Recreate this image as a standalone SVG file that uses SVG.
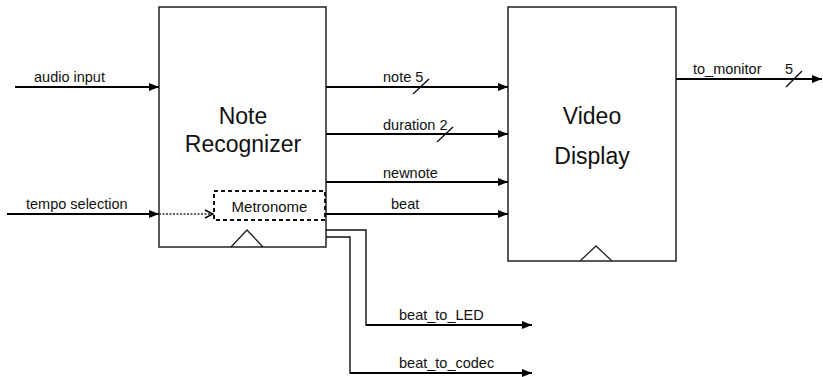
<svg xmlns="http://www.w3.org/2000/svg" width="823" height="377" viewBox="0 0 823 377">
<style>
.box{fill:#fff;stroke:#222;stroke-width:1.5}
.clk{fill:none;stroke:#222;stroke-width:1.3}
.wire{fill:none;stroke:#000;stroke-width:2}
.thin{fill:none;stroke:#111;stroke-width:1.4}
.lbl{font-family:"Liberation Sans",Arial,sans-serif;font-size:14.5px;fill:#111}
.title{font-family:"Liberation Sans",Arial,sans-serif;font-size:23px;fill:#111;text-anchor:middle}
</style>
<defs>
<marker id="ah" viewBox="0 0 10 8" refX="10" refY="4" markerWidth="10" markerHeight="8" markerUnits="userSpaceOnUse" orient="auto">
<path d="M0,0L10,4L0,8z" fill="#000"/>
</marker>
<marker id="oh" viewBox="0 0 10 10" refX="9" refY="5" markerWidth="10" markerHeight="10" markerUnits="userSpaceOnUse" orient="auto">
<path d="M1,1L9,5L1,9" fill="none" stroke="#000" stroke-width="1.4"/>
</marker>
</defs>
<rect width="823" height="377" fill="#fff"/>
<g id="note-recognizer">
<rect class="box" x="159" y="7" width="167" height="240"/>
<path class="clk" d="M231,247L247,230L263,247"/>
<text class="title" x="243" y="124">Note</text>
<text class="title" x="243" y="152">Recognizer</text>
</g>
<g id="metronome">
<rect x="214" y="191" width="111" height="29" fill="none" stroke="#111" stroke-width="2" stroke-dasharray="4,3"/>
<text class="lbl" x="269.5" y="212" text-anchor="middle" style="font-size:15px">Metronome</text>
</g>
<g id="video-display">
<rect class="box" x="508" y="7" width="168" height="254"/>
<path class="clk" d="M580,261L596,246L612,261"/>
<text class="title" x="592" y="124">Video</text>
<text class="title" x="592" y="164">Display</text>
</g>
<g id="connectors">
<line class="wire" x1="15" y1="87" x2="159" y2="87" marker-end="url(#ah)"/>
<text class="lbl" x="34" y="82">audio input</text>
<line class="wire" x1="7" y1="214" x2="159" y2="214" marker-end="url(#ah)"/>
<text class="lbl" x="26" y="209">tempo selection</text>
<line x1="159" y1="214" x2="213" y2="214" stroke="#333" stroke-width="1.4" stroke-dasharray="2,1.5" marker-end="url(#oh)"/>

<line class="wire" x1="326" y1="87" x2="508" y2="87" marker-end="url(#ah)"/>
<text class="lbl" x="383" y="82">note 5</text>
<line class="thin" x1="413" y1="94" x2="429" y2="79"/>
<line class="wire" x1="326" y1="134" x2="508" y2="134" marker-end="url(#ah)"/>
<text class="lbl" x="383" y="130">duration 2</text>
<line class="thin" x1="437" y1="142" x2="453" y2="127"/>
<line class="wire" x1="326" y1="182" x2="508" y2="182" marker-end="url(#ah)"/>
<text class="lbl" x="383" y="178">newnote</text>
<line class="wire" x1="326" y1="214" x2="508" y2="214" marker-end="url(#ah)"/>
<text class="lbl" x="391" y="209">beat</text>

<line class="wire" x1="676" y1="79" x2="822" y2="79" marker-end="url(#ah)"/>
<text class="lbl" x="693" y="74">to_monitor</text>
<text class="lbl" x="785" y="74">5</text>
<line class="thin" x1="786" y1="87" x2="802" y2="71"/>

<path class="thin" d="M326,230H366V325H522"/>
<line class="wire" x1="366" y1="325" x2="532" y2="325" marker-end="url(#ah)"/>
<text class="lbl" x="399" y="320">beat_to_LED</text>
<path class="thin" d="M326,237H350V373H522"/>
<line class="wire" x1="350" y1="373" x2="532" y2="373" marker-end="url(#ah)"/>
<text class="lbl" x="399" y="368">beat_to_codec</text>
</g>
</svg>
